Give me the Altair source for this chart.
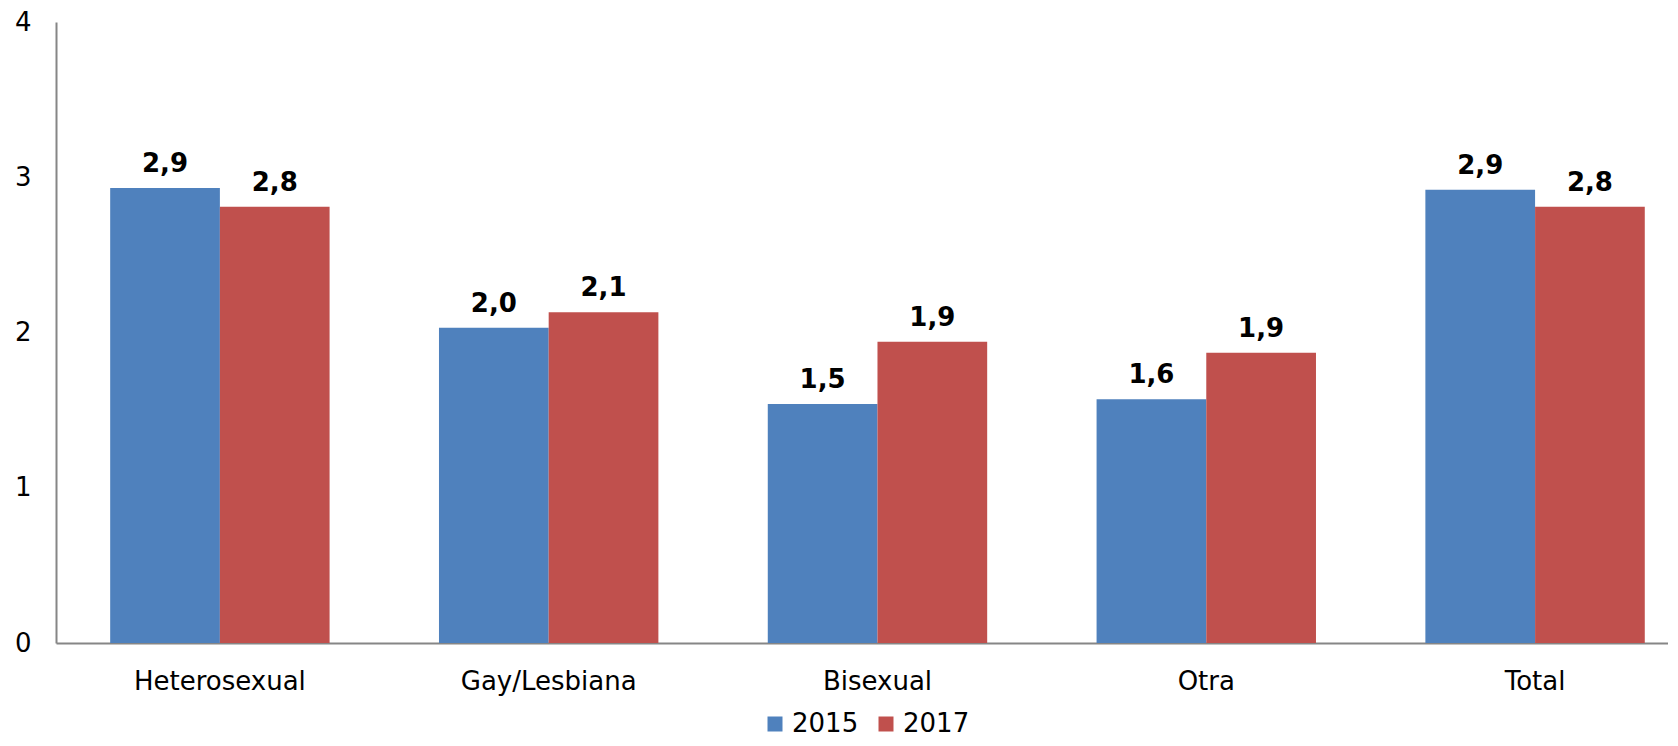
import altair as alt
import pandas as pd

categories = ["Heterosexual", "Gay/Lesbiana", "Bisexual", "Otra", "Total"]
values_2015 = [2.93, 2.03, 1.54, 1.57, 2.92]
values_2017 = [2.81, 2.13, 1.94, 1.87, 2.81]
labels_2015 = ["2,9", "2,0", "1,5", "1,6", "2,9"]
labels_2017 = ["2,8", "2,1", "1,9", "1,9", "2,8"]
years = ["2015", "2017"]
colors = ["#4F81BD", "#C0504D"]

rows = []
for i, c in enumerate(categories):
    rows.append({"cat": c, "year": "2015", "value": values_2015[i], "label": labels_2015[i]})
    rows.append({"cat": c, "year": "2017", "value": values_2017[i], "label": labels_2017[i]})
df = pd.DataFrame(rows)

FONT = "DejaVu Sans"

x = alt.X("cat:N", sort=categories, title=None,
          scale=alt.Scale(paddingInner=0.3327, paddingOuter=0.1177, align=0.70),
          axis=alt.Axis(labelAngle=0, labelFontSize=26, labelFont=FONT, labelColor="#000000",
                        ticks=False, domainColor="#868686", domainWidth=2, labelPadding=25))
xo = alt.XOffset("year:N", sort=years, scale=alt.Scale(paddingInner=0, paddingOuter=0))
y = alt.Y("value:Q", title=None,
          scale=alt.Scale(domain=[0, 4], nice=False),
          axis=alt.Axis(values=[0, 1, 2, 3, 4], grid=False, ticks=False, labelFontSize=26,
                        labelFont=FONT, labelColor="#000000", domainColor="#868686",
                        domainWidth=2, labelPadding=25))

bars = alt.Chart(df).mark_bar().encode(
    x=x, xOffset=xo, y=y,
    color=alt.Color("year:N", sort=years, title=None,
                    scale=alt.Scale(domain=years, range=colors),
                    legend=alt.Legend(orient="none", legendX=706, legendY=689, direction="horizontal",
                                      symbolType="square", symbolSize=225, symbolStrokeWidth=0,
                                      labelFontSize=26, labelFont=FONT, labelColor="#000000",
                                      labelOffset=4)),
)

text = alt.Chart(df).mark_text(baseline="alphabetic", dy=-16, fontSize=26, fontWeight="bold",
                               font=FONT, color="#000000").encode(
    x=x, xOffset=xo, y=y, text="label:N")

chart = (bars + text).properties(
    width=1612, height=621,
    autosize=alt.AutoSizeParams(type="none"),
    padding={"left": 48, "top": 14, "right": 0, "bottom": 95},
).configure_view(stroke=None).configure_legend(columnPadding=14)

chart.save("out.html", embed_options={"renderer": "svg", "actions": False})
